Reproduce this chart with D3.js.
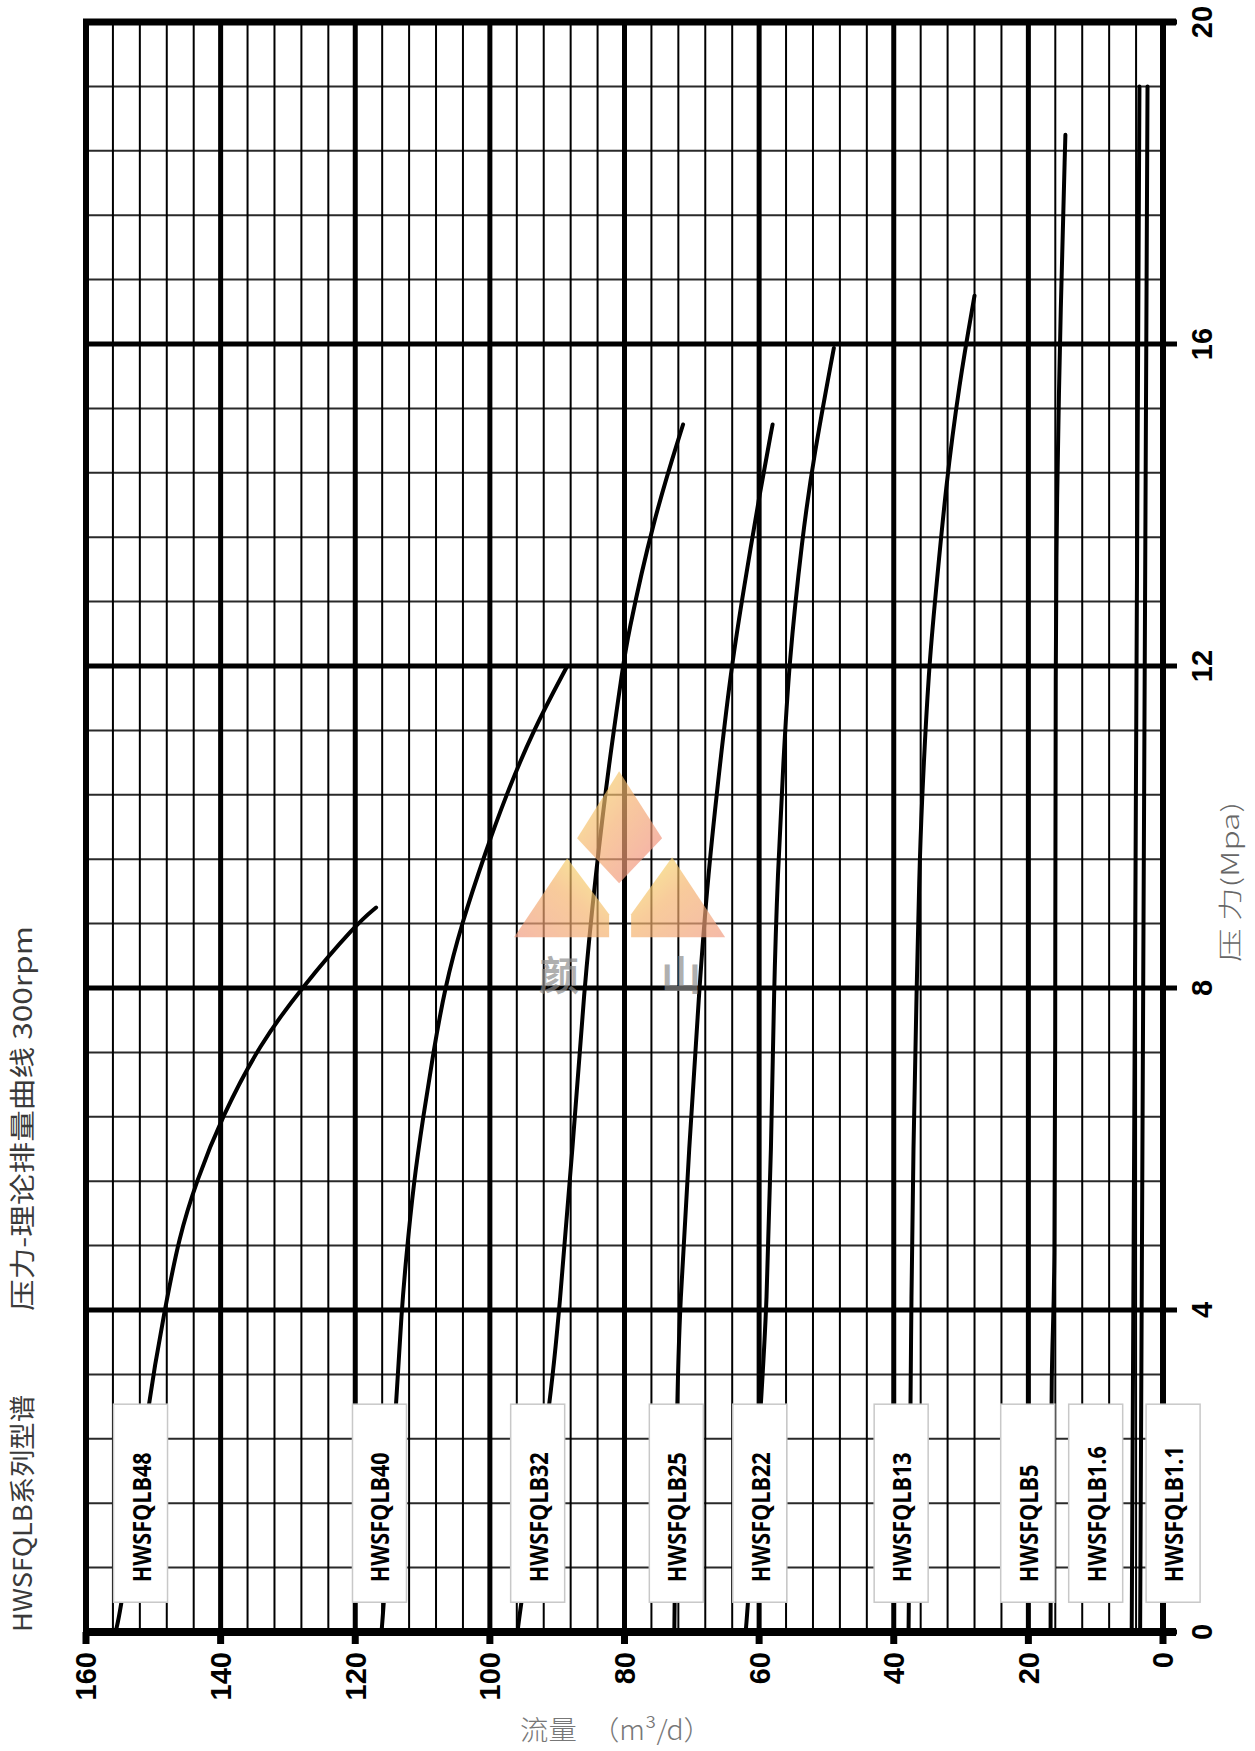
<!DOCTYPE html>
<html>
<head>
<meta charset="utf-8">
<script src="https://cdn.jsdelivr.net/npm/d3@7"></script>
<style>
  body { margin: 0; background: #fff; }
  svg { display: block; }
</style>
</head>
<body>
<div id="chart"></div>
<script>
const width = 1255;
const height = 1751;
const margin = {top: 22, right: 92, bottom: 119, left: 86};

// axis ticks
const flowTicks = [160, 140, 120, 100, 80, 60, 40, 20, 0];
const pressureTicks = [0, 4, 8, 12, 16, 20];

// pump models and where their label box sits (flow, m3/d)
const models = ['HWSFQLB48', 'HWSFQLB40', 'HWSFQLB32', 'HWSFQLB25', 'HWSFQLB22',
  'HWSFQLB13', 'HWSFQLB5', 'HWSFQLB1.6', 'HWSFQLB1.1'];
const labelFlow = [151.9, 116.4, 92.9, 72.3, 59.9, 38.9, 20.1, 10.0, -1.5];

// curves: [pressure MPa, flow m3/d]
const curve48 = [[0, 155.6], [0.4, 154.5], [2.9, 150.7], [4, 148.3], [4.9, 146.2], [5.6, 143.6],
  [6.4, 139.8], [7.3, 134.2], [8, 128.0], [8.8, 119.8], [9.0, 116.9]];
const curve40 = [[0, 116.1], [0.4, 115.7], [2.9, 113.9], [4, 113.1], [4.6, 112.5], [5.6, 111.3],
  [6.4, 109.9], [7.2, 108.4], [8, 106.7], [8.8, 104.2], [9.7, 100.6], [10.35, 97.8], [11.2, 93.6], [12, 88.5]];
const curve32 = [[0, 95.9], [0.4, 95.3], [2.9, 90.9], [4, 89.7], [6, 87.7], [8, 86.0], [9.4, 84.3],
  [10.8, 82.3], [12, 80.2], [12.3, 79.7], [13.8, 75.8], [15, 71.3]];
const curve25 = [[0, 72.6], [2.9, 72.2], [4, 71.8], [6, 70.4], [8, 68.9], [9.4, 67.6], [10.8, 65.8],
  [12, 64.1], [12.95, 62.3], [14.2, 59.8], [15, 58.0]];
const curve22 = [[0, 62.0], [0.4, 61.6], [3, 59.6], [4, 58.9], [6, 58.2], [8, 57.8], [9.4, 57.25],
  [10.8, 56.4], [12, 55.6], [13.6, 53.6], [14.6, 51.9], [15.95, 48.9]];
const curve13 = [[0, 37.8], [2.9, 37.5], [4, 37.4], [6, 37.1], [8, 36.6], [9.4, 36.2], [10.2, 35.9],
  [12, 34.8], [12.95, 33.7], [14.2, 32.3], [15.5, 30.3], [16.6, 28.0]];
const curve5 = [[0, 16.7], [3.7, 16.6], [3.9, 16.05], [9, 16.0], [12, 15.95], [14, 15.8], [16.5, 15.2], [18.6, 14.5]];
const curve16 = [[0, 4.65], [19.2, 3.5]];
const curve11 = [[0, 3.4], [19.2, 2.3]];
const curves = [curve48, curve40, curve32, curve25, curve22, curve13, curve5, curve16, curve11];

const titleA = 'HWSFQLB系列型谱';
const titleB = '压力-理论排量曲线  300rpm';
const yTitle = '压 力(Mpa)';
const xTitle = '流量　（m³/d）';

// scales
const x = d3.scaleLinear().domain([160, 0]).range([margin.left, width - margin.right]);
const y = d3.scaleLinear().domain([0, 20]).range([height - margin.bottom, margin.top]);

const svg = d3.select('#chart')
  .append('svg')
    .attr('width', width)
    .attr('height', height);

// grid
const vGrid = d3.range(4, 160, 4);
const hGrid = d3.range(1, 25).map(i => i * 0.8);
const isMajorFlow = v => Math.abs(v % 20) < 1e-6;
const isMajorP = v => Math.round(v / 0.8) % 5 === 0;

const grid = svg.append('g').attr('class', 'grid');
grid.selectAll('line.h')
  .data(hGrid)
  .join('line')
    .attr('class', 'h')
    .attr('x1', x(160)).attr('x2', x(0))
    .attr('y1', d => y(d)).attr('y2', d => y(d))
    .attr('stroke', d => isMajorP(d) ? '#000' : '#2a2a2a')
    .attr('stroke-width', d => isMajorP(d) ? 5 : 2);
grid.selectAll('line.v')
  .data(vGrid)
  .join('line')
    .attr('class', 'v')
    .attr('x1', d => x(d)).attr('x2', d => x(d))
    .attr('y1', y(20)).attr('y2', y(0))
    .attr('stroke', '#000')
    .attr('stroke-width', d => isMajorFlow(d) ? 5 : 2);

// curves
const line = d3.line()
  .x(d => x(d[1]))
  .y(d => y(d[0]))
  .curve(d3.curveBasis);

svg.append('g')
  .attr('class', 'curves')
  .selectAll('path')
  .data(curves)
  .join('path')
    .attr('d', line)
    .attr('fill', 'none')
    .attr('stroke', '#000')
    .attr('stroke-width', 4)
    .attr('stroke-linecap', 'round');

// frame
const frame = svg.append('g').attr('class', 'frame').attr('stroke', '#000');
frame.append('line')
  .attr('x1', x(160) - 3).attr('x2', x(0) + 13)
  .attr('y1', y(20)).attr('y2', y(20))
  .attr('stroke-width', 7);
frame.append('line')
  .attr('x1', x(160) - 3).attr('x2', x(0) + 13)
  .attr('y1', y(0)).attr('y2', y(0))
  .attr('stroke-width', 8);
frame.append('line')
  .attr('x1', x(160)).attr('x2', x(160))
  .attr('y1', y(20)).attr('y2', y(0))
  .attr('stroke-width', 6);
frame.append('line')
  .attr('x1', x(0)).attr('x2', x(0))
  .attr('y1', y(20)).attr('y2', y(0))
  .attr('stroke-width', 6);

// ticks
frame.selectAll('line.xt')
  .data(flowTicks)
  .join('line')
    .attr('class', 'xt')
    .attr('x1', d => x(d)).attr('x2', d => x(d))
    .attr('y1', y(0)).attr('y2', y(0) + 12)
    .attr('stroke-width', 7);
frame.selectAll('line.yt')
  .data(pressureTicks)
  .join('line')
    .attr('class', 'yt')
    .attr('x1', x(0)).attr('x2', x(0) + 14)
    .attr('y1', d => y(d)).attr('y2', d => y(d))
    .attr('stroke-width', 5);

// tick labels
svg.append('g')
  .selectAll('text')
  .data(flowTicks)
  .join('text')
    .attr('transform', d => `translate(${x(d)},${y(0) + 20}) rotate(-90)`)
    .attr('text-anchor', 'end')
    .attr('dy', '0.36em')
    .style('font-family', '"Liberation Sans", Arial, sans-serif')
    .style('font-weight', 700)
    .style('font-size', '29px')
    .text(d => d);
svg.append('g')
  .selectAll('text')
  .data(pressureTicks)
  .join('text')
    .attr('transform', d => `translate(${x(0) + 39},${y(d)}) rotate(-90)`)
    .attr('text-anchor', 'middle')
    .attr('dy', '0.36em')
    .style('font-family', '"Liberation Sans", Arial, sans-serif')
    .style('font-weight', 700)
    .style('font-size', '29px')
    .text(d => d);

// model label boxes
const boxW = 54;
const boxTop = 2.83, boxBottom = 0.37;
const labels = svg.append('g')
  .attr('class', 'labels')
  .selectAll('g')
  .data(models.map((m, i) => ({name: m, f: labelFlow[i]})))
  .join('g');
labels.append('rect')
  .attr('x', d => x(d.f) - boxW / 2)
  .attr('y', y(boxTop))
  .attr('width', boxW)
  .attr('height', y(boxBottom) - y(boxTop))
  .attr('fill', '#fff')
  .attr('stroke', '#c8c8c8')
  .attr('stroke-width', 1.5);
const labelText = labels.append('text')
  .attr('text-anchor', 'start')
  .attr('dy', '0.36em')
  .style('font-family', '"Open Sans", sans-serif')
  .style('font-weight', 700)
  .style('font-size', '25px')
  .text(d => d.name);
// squeeze the labels to the narrow face used in the chart
const refLen = labelText.filter(d => d.name === 'HWSFQLB48').node().getComputedTextLength();
const sx = 130 / refLen;
labelText.attr('transform', d => `translate(${x(d.f) + 1},${y(boxBottom) - 20}) rotate(-90) scale(${sx},1)`);

// titles
const titles = svg.append('g')
  .style('font-family', '"Noto Sans CJK SC", sans-serif')
  .attr('fill', '#3a3a3a');
titles.append('text')
  .attr('transform', `translate(23,${y(0)}) rotate(-90)`)
  .attr('dy', '0.36em')
  .attr('textLength', 237)
  .attr('lengthAdjust', 'spacingAndGlyphs')
  .style('font-size', '26px')
  .text(titleA);
titles.append('text')
  .attr('transform', `translate(23,1311) rotate(-90)`)
  .attr('dy', '0.36em')
  .attr('textLength', 385)
  .attr('lengthAdjust', 'spacingAndGlyphs')
  .style('font-size', '26px')
  .text(titleB);
titles.append('text')
  .attr('transform', `translate(1230,962) rotate(-90)`)
  .attr('dy', '0.36em')
  .attr('textLength', 160)
  .attr('lengthAdjust', 'spacingAndGlyphs')
  .attr('fill', '#666')
  .style('font-size', '24px')
  .style('font-weight', 300)
  .text(yTitle);
titles.append('text')
  .attr('x', 520)
  .attr('y', 1740)
  .attr('textLength', 192)
  .attr('lengthAdjust', 'spacingAndGlyphs')
  .attr('fill', '#777')
  .style('font-size', '27px')
  .style('font-weight', 300)
  .text(xTitle);

// watermark logo
const defs = svg.append('defs');
const grad = defs.append('linearGradient')
  .attr('id', 'wm')
  .attr('x1', '0%').attr('y1', '0%')
  .attr('x2', '100%').attr('y2', '100%');
grad.append('stop').attr('offset', '0%').attr('stop-color', '#f7e46a');
grad.append('stop').attr('offset', '45%').attr('stop-color', '#f5b070');
grad.append('stop').attr('offset', '100%').attr('stop-color', '#f08585');
const gradL = defs.append('linearGradient')
  .attr('id', 'wmL')
  .attr('x1', '0%').attr('y1', '100%')
  .attr('x2', '100%').attr('y2', '0%');
gradL.append('stop').attr('offset', '0%').attr('stop-color', '#f19a80');
gradL.append('stop').attr('offset', '55%').attr('stop-color', '#f5b46c');
gradL.append('stop').attr('offset', '100%').attr('stop-color', '#f7ea6a');
const gradR = defs.append('linearGradient')
  .attr('id', 'wmR')
  .attr('x1', '100%').attr('y1', '100%')
  .attr('x2', '0%').attr('y2', '0%');
gradR.append('stop').attr('offset', '0%').attr('stop-color', '#f19a80');
gradR.append('stop').attr('offset', '55%').attr('stop-color', '#f5b46c');
gradR.append('stop').attr('offset', '100%').attr('stop-color', '#f7ea6a');

const logo = svg.append('g')
  .attr('transform', `translate(${x(80.8)},${y(9.86)})`)
  .attr('opacity', 0.68);
logo.append('path')
  .attr('d', 'M0,-67 L43,0 L0,45 L-42,0 Z')
  .attr('fill', 'url(#wm)');
logo.append('path')
  .attr('d', 'M-52,20 L-10,76 L-10,99 L-105,99 Z')
  .attr('fill', 'url(#wmL)');
logo.append('path')
  .attr('d', 'M53,19 L12,76 L12,99 L106,99 Z')
  .attr('fill', 'url(#wmR)');
logo.selectAll('text')
  .data(['颜', '山'])
  .join('text')
    .attr('x', (d, i) => i === 0 ? -60 : 62)
    .attr('y', 152)
    .attr('text-anchor', 'middle')
    .attr('fill', '#8a8a8a')
    .style('font-family', '"Noto Sans CJK SC", sans-serif')
    .style('font-weight', 700)
    .style('font-size', '40px')
    .text(d => d);
</script>
</body>
</html>
